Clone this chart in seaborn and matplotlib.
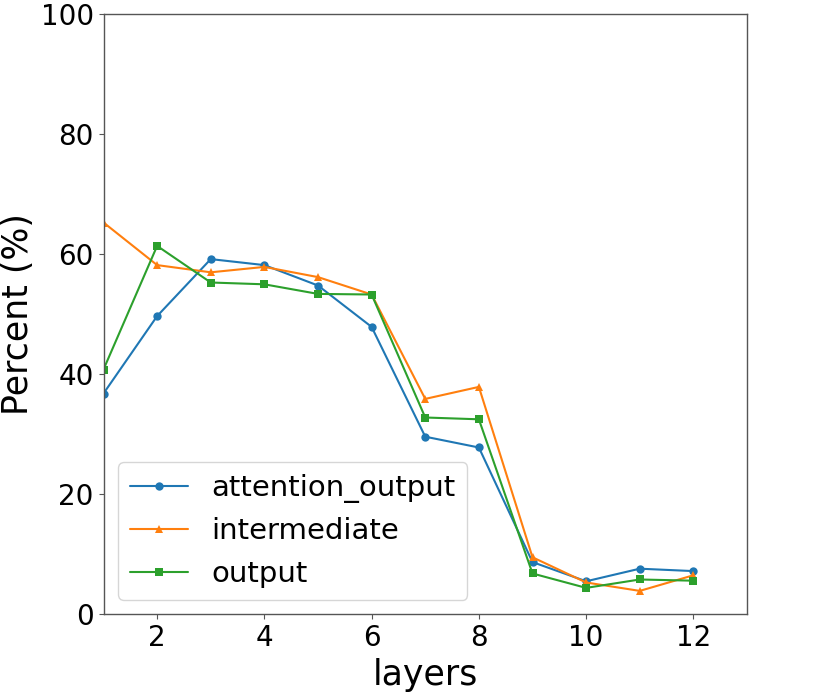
import pandas as pd
import matplotlib
matplotlib.use("Agg")
import matplotlib.pyplot as plt
import seaborn as sns

layers = list(range(1, 13))

attention_output = [36.8, 49.7, 59.2, 58.2, 54.8, 47.9, 29.6, 27.8, 8.7, 5.5, 7.6, 7.2]
intermediate = [65.3, 58.2, 57.0, 57.9, 56.2, 53.3, 35.9, 37.9, 9.5, 5.3, 3.9, 6.5]
output = [40.8, 61.4, 55.3, 55.0, 53.4, 53.3, 32.8, 32.5, 6.8, 4.4, 5.8, 5.6]

series = {
    "attention_output": (attention_output, "o", "#1f77b4"),
    "intermediate": (intermediate, "^", "#ff7f0e"),
    "output": (output, "s", "#2ca02c"),
}

sns.set_style("white")
plt.rcParams["font.family"] = ["DejaVu Sans"]
plt.rcParams["text.color"] = "black"
plt.rcParams["axes.labelcolor"] = "black"
plt.rcParams["xtick.color"] = "black"
plt.rcParams["ytick.color"] = "black"

fig, ax = plt.subplots(figsize=(8.3, 6.92), dpi=100)
fig.subplots_adjust(left=0.1247, right=0.9, top=0.9793, bottom=0.1123)

for name, (vals, mk, col) in series.items():
    df = pd.DataFrame({"layers": layers, "percent": vals})
    sns.lineplot(data=df, x="layers", y="percent", marker=mk, color=col,
                 markersize=6, markeredgewidth=0, linewidth=1.5, label=name, ax=ax)

ax.set_xlim(1, 13)
ax.set_ylim(0, 100)
ax.set_xticks([2, 4, 6, 8, 10, 12])
ax.set_yticks([0, 20, 40, 60, 80, 100])
ax.tick_params(axis="both", labelsize=20, length=3.5, direction="out",
               bottom=True, left=True, colors="black")
ax.tick_params(axis="both", color="#555555")
ax.set_xlabel("layers", fontsize=25)
ax.set_ylabel("Percent (%)", fontsize=25)
for s in ax.spines.values():
    s.set_color("#555555")
    s.set_linewidth(1)

ax.legend(loc="lower left", fontsize=21, frameon=True)

fig.savefig("out.png", dpi=100)
